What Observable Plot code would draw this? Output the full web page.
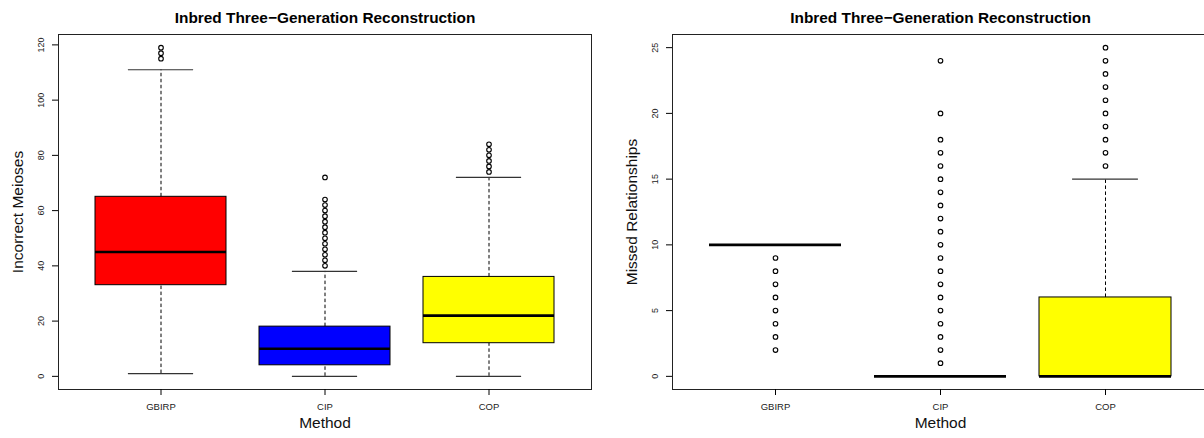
<!DOCTYPE html>
<html>
<head>
<meta charset="utf-8">
<script src="https://cdn.jsdelivr.net/npm/d3@7"></script>
<script src="https://cdn.jsdelivr.net/npm/@observablehq/plot@0.6"></script>
<style>
  html, body { margin: 0; padding: 0; background: #fff; }
  body { width: 1204px; height: 438px; overflow: hidden; }
  #wrap { display: flex; flex-direction: row; width: 1204px; height: 438px; overflow: hidden; }
  #wrap svg { flex: none; }
</style>
</head>
<body>
<div id="wrap"></div>
<script>
// ---------- data ----------
const methods = ["GBIRP", "CIP", "COP"];
const colors = ["#FF0000", "#0000FF", "#FFFF00"];
const title = "Inbred Three\u2212Generation Reconstruction";
const xLabel = "Method";

// Panel 1: Incorrect Meioses
const meiosesLabel = "Incorrect Meioses";
const meiosesTicks = [0, 20, 40, 60, 80, 100, 120];
const meiosesLo  = [1, 0, 0];
const meiosesQ1  = [33, 4, 12];
const meiosesMed = [45, 10, 22];
const meiosesQ3  = [65, 18, 36];
const meiosesHi  = [111, 38, 72];
const meiosesOut = [
  [115, 117, 119],
  [40, 42, 44, 46, 48, 50, 52, 54, 56, 58, 60, 62, 64, 72],
  [74, 76, 78, 80, 82, 84]
];

// Panel 2: Missed Relationships
const missedLabel = "Missed Relationships";
const missedTicks = [0, 5, 10, 15, 20, 25];
const missedLo  = [10, 0, 0];
const missedQ1  = [10, 0, 0];
const missedMed = [10, 0, 0];
const missedQ3  = [10, 0, 6];
const missedHi  = [10, 0, 15];
const missedOut = [
  [2, 3, 4, 5, 6, 7, 8, 9],
  [1, 2, 3, 4, 5, 6, 7, 8, 9, 10, 11, 12, 13, 14, 15, 16, 17, 18, 20, 24],
  [16, 17, 18, 19, 20, 21, 22, 23, 24, 25]
];

// ---------- drawing ----------
const FONT = "Liberation Sans, Arial, Helvetica, sans-serif";

function panel({width, marginLeft, marginRight, yLabel, ticks, lo, q1, med, q3, hi, out}) {
  const height = 438, marginTop = 34, marginBottom = 49;
  const stats = methods.map((m, i) => ({method: m, color: colors[i], lo: lo[i], q1: q1[i], med: med[i], q3: q3[i], hi: hi[i]}));
  const outliers = methods.flatMap((m, i) => out[i].map(v => ({method: m, value: v})));
  const all = [...lo, ...hi, ...out.flat()];
  const dmin = d3.min(all), dmax = d3.max(all);
  const pad = (dmax - dmin) * 0.04;
  const plotW = width - marginLeft - marginRight;
  const step = plotW / 3.24;
  const capInset = step * 0.2;
  return Plot.plot({
    width, height, marginTop, marginBottom, marginLeft, marginRight,
    style: {fontFamily: FONT, background: "white", overflow: "visible"},
    x: {domain: methods, paddingInner: 0.2, paddingOuter: 0.22, label: null},
    y: {domain: [dmin - pad, dmax + pad], label: null},
    marks: [
      // whiskers
      Plot.ruleX(stats, {x: "method", y1: "q3", y2: "hi", stroke: "black", strokeWidth: 1, strokeDasharray: "3.5,2.5"}),
      Plot.ruleX(stats, {x: "method", y1: "lo", y2: "q1", stroke: "black", strokeWidth: 1, strokeDasharray: "3.5,2.5"}),
      // staples
      Plot.tickY(stats, {x: "method", y: "hi", stroke: "#333", strokeWidth: 1.2, insetLeft: capInset, insetRight: capInset}),
      Plot.tickY(stats, {x: "method", y: "lo", stroke: "#333", strokeWidth: 1.2, insetLeft: capInset, insetRight: capInset}),
      // boxes
      Plot.barY(stats, {x: "method", y1: "q1", y2: "q3", fill: "color", stroke: "black", strokeWidth: 1}),
      // medians
      Plot.tickY(stats, {x: "method", y: "med", stroke: "black", strokeWidth: 2.6}),
      // outliers
      Plot.dot(outliers, {x: "method", y: "value", r: 2.3, stroke: "black", strokeWidth: 1.1, fill: "none"}),
      // frame
      Plot.frame({stroke: "#222", strokeWidth: 1}),
      // y axis ticks + rotated labels
      Plot.axisY(ticks, {tickSize: 6, tickFormat: () => "", stroke: "black"}),
      Plot.text(ticks, {y: d => d, text: d => String(d), frameAnchor: "left", textAnchor: "middle", dx: -17.5, rotate: -90, fontSize: 9, fill: "#222"}),
      // x axis
      Plot.axisX({tickSize: 6, tickPadding: 8, fontSize: 9.5, label: null, stroke: "black", fill: "#222"}),
      // axis titles
      Plot.text([xLabel], {text: d => d, frameAnchor: "bottom", textAnchor: "middle", dy: 38.7, fontSize: 15.5, fill: "#111"}),
      Plot.text([yLabel], {text: d => d, frameAnchor: "left", textAnchor: "middle", dx: -40, rotate: -90, fontSize: 15.5, fill: "#111"}),
      // title
      Plot.text([title], {text: d => d, frameAnchor: "top", textAnchor: "middle", dy: -22.9, fontSize: 15.4, fontWeight: "bold", fill: "#000"})
    ]
  });
}

const wrap = document.getElementById("wrap");
wrap.appendChild(panel({
  width: 602, marginLeft: 58, marginRight: 11, yLabel: meiosesLabel, ticks: meiosesTicks,
  lo: meiosesLo, q1: meiosesQ1, med: meiosesMed, q3: meiosesQ3, hi: meiosesHi, out: meiosesOut
}));
wrap.appendChild(panel({
  width: 610, marginLeft: 70, marginRight: 4, yLabel: missedLabel, ticks: missedTicks,
  lo: missedLo, q1: missedQ1, med: missedMed, q3: missedQ3, hi: missedHi, out: missedOut
}));
</script>
</body>
</html>
